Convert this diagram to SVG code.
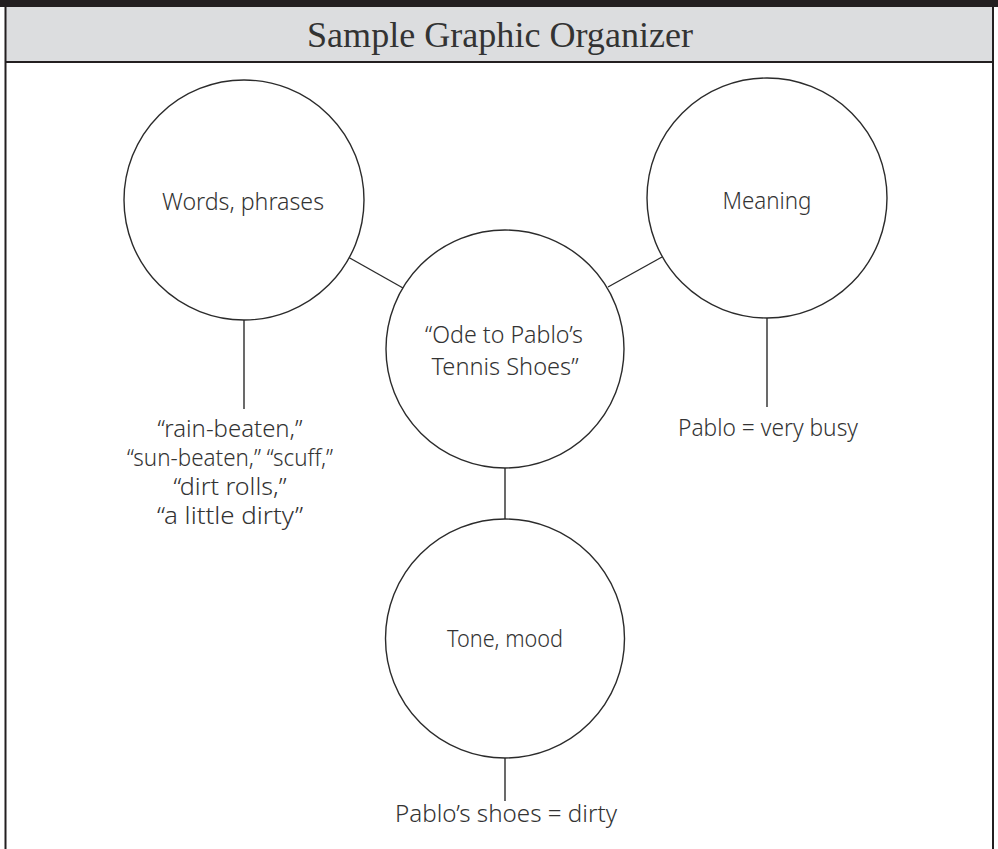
<svg xmlns="http://www.w3.org/2000/svg" width="998" height="849" viewBox="0 0 998 849">
  <style>
    .frame { fill: none; stroke: #231f20; stroke-width: 2; }
    .node circle { fill: #ffffff; stroke: #2b2b2b; stroke-width: 1.4; }
    .links line { stroke: #2b2b2b; stroke-width: 1.4; }
    .hand { font-family: "Noto Sans", "Open Sans", sans-serif; font-weight: 300; font-size: 23px; fill: #333333; text-anchor: middle; }
    .title { font-family: "Liberation Serif", "DejaVu Serif", serif; font-size: 36px; fill: #333333; text-anchor: middle; }
  </style>

  <!-- page background -->
  <rect x="0" y="0" width="998" height="849" fill="#ffffff"/>

  <!-- header band -->
  <g id="header">
    <rect x="0" y="0" width="998" height="7" fill="#231f20"/>
    <rect x="5" y="7" width="988" height="55" fill="#dcdddf"/>
    <line x1="5" y1="62" x2="993" y2="62" stroke="#231f20" stroke-width="2"/>
    <text class="title" x="500" y="47" textLength="386" lengthAdjust="spacingAndGlyphs">Sample Graphic Organizer</text>
  </g>

  <!-- outer frame sides -->
  <line class="frame" x1="5.5" y1="7" x2="5.5" y2="849"/>
  <line class="frame" x1="993" y1="7" x2="993" y2="849"/>

  <!-- connectors -->
  <g id="connectors" class="links">
    <line x1="348" y1="257" x2="403" y2="288"/>
    <line x1="608" y1="287" x2="662" y2="257"/>
    <line x1="244" y1="320" x2="244" y2="409"/>
    <line x1="767" y1="318" x2="767" y2="407"/>
    <line x1="505" y1="468" x2="505" y2="519"/>
    <line x1="505" y1="758" x2="505" y2="801"/>
  </g>

  <!-- nodes -->
  <g id="node-words" class="node">
    <circle cx="244" cy="200" r="120"/>
    <text class="hand" x="243" y="210" textLength="162" lengthAdjust="spacingAndGlyphs">Words, phrases</text>
  </g>

  <g id="node-meaning" class="node">
    <circle cx="767" cy="198" r="120"/>
    <text class="hand" x="767" y="209" textLength="89" lengthAdjust="spacingAndGlyphs">Meaning</text>
  </g>

  <g id="node-poem" class="node">
    <circle cx="505" cy="349" r="119"/>
    <text class="hand" x="504" y="343" textLength="158" lengthAdjust="spacingAndGlyphs">“Ode to Pablo’s</text>
    <text class="hand" x="505" y="375" textLength="147" lengthAdjust="spacingAndGlyphs">Tennis Shoes”</text>
  </g>

  <g id="node-tone" class="node">
    <circle cx="505" cy="638.5" r="119.5"/>
    <text class="hand" x="505" y="647" textLength="116" lengthAdjust="spacingAndGlyphs">Tone, mood</text>
  </g>

  <!-- answers below each node -->
  <g id="note-words">
    <text class="hand" x="230" y="437" textLength="145" lengthAdjust="spacingAndGlyphs">“rain-beaten,”</text>
    <text class="hand" x="230" y="466" textLength="206" lengthAdjust="spacingAndGlyphs">“sun-beaten,” “scuff,”</text>
    <text class="hand" x="230" y="495" textLength="113" lengthAdjust="spacingAndGlyphs">“dirt rolls,”</text>
    <text class="hand" x="230" y="524" textLength="146" lengthAdjust="spacingAndGlyphs">“a little dirty”</text>
  </g>

  <g id="note-meaning">
    <text class="hand" x="768" y="436" textLength="180" lengthAdjust="spacingAndGlyphs">Pablo = very busy</text>
  </g>

  <g id="note-tone">
    <text class="hand" x="506" y="822" textLength="222" lengthAdjust="spacingAndGlyphs">Pablo’s shoes = dirty</text>
  </g>
</svg>
